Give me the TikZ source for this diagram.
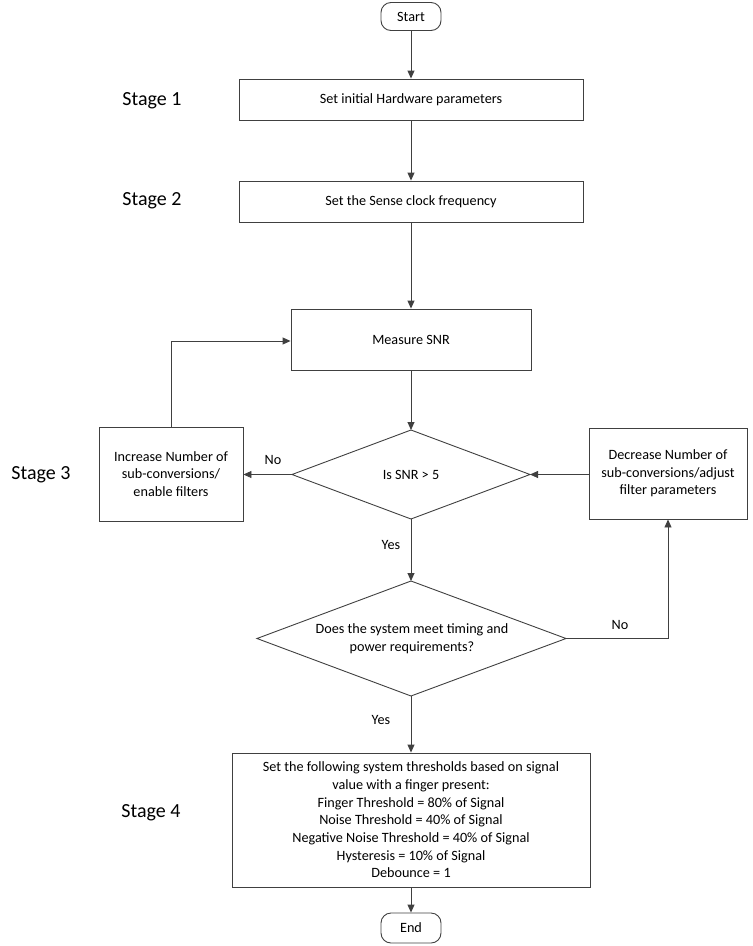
\documentclass[tikz,border=0pt]{standalone}
\usepackage{fontspec}
\setmainfont{Carlito}
\usetikzlibrary{shapes.geometric,arrows.meta}
\definecolor{ln}{HTML}{404040}
\tikzset{
  every node/.style={font=\fontsize{14.2}{17.7}\selectfont, text=black},
  proc/.style={draw=ln, line width=0.9pt, rectangle, align=center, inner sep=0pt},
  term/.style={draw=ln, line width=0.9pt, rectangle, rounded corners=10pt, minimum width=60pt, minimum height=28pt, inner sep=0pt},
  stagelbl/.style={font=\fontsize{20}{24}\selectfont},
  lbl/.style={font=\fontsize{14.2}{17.7}\selectfont},
  conn/.style={draw=ln, line width=0.9pt, -{Triangle[length=8pt,width=7pt]}}
}
\begin{document}
\begin{tikzpicture}[x=1pt,y=-1pt]
\useasboundingbox (0,0) rectangle (753,946);
\node[term] (start) at (411,16.5) {Start};
\node[proc, minimum width=344pt, minimum height=41pt] (b1) at (411,99.5) {Set initial Hardware parameters};
\node[proc, minimum width=344pt, minimum height=41pt] (b2) at (411,201.5) {Set the Sense clock frequency};
\node[proc, minimum width=240pt, minimum height=61pt] (snr) at (411,339.5) {Measure SNR};
\path[draw=ln, line width=0.9pt] (292,474.5) coordinate (d1w) -- (411,430) coordinate (d1n) -- (530,474.5) coordinate (d1e) -- (411,519) coordinate (d1s) -- cycle;
\node at (411,474.5) (d1t) {Is SNR > 5};
\node[proc, minimum width=144pt, minimum height=94pt] (inc) at (171,474) {Increase Number of\\sub-conversions/\\enable filters};
\node[proc, minimum width=158pt, minimum height=91pt] (dcr) at (668,473.5) {Decrease Number of\\sub-conversions/adjust\\filter parameters};
\path[draw=ln, line width=0.9pt] (257,638.5) coordinate (d2w) -- (411,581) coordinate (d2n) -- (566,638.5) coordinate (d2e) -- (411,696) coordinate (d2s) -- cycle;
\node[align=center] (d2t) at (412,638.5) {Does the system meet timing and\\power requirements?};
\node[proc, minimum width=358pt, minimum height=134pt] (b4) at (411,820) {Set the following system thresholds based on signal\\value with a finger present:\\Finger Threshold = 80\% of Signal\\Noise Threshold = 40\% of Signal\\Negative Noise Threshold = 40\% of Signal\\Hysteresis = 10\% of Signal\\Debounce = 1};
\node[term, minimum height=30pt] (end) at (411,928) {End};
\node[stagelbl] (s1) at (152,101) {Stage 1};
\node[stagelbl] (s2) at (152,201) {Stage 2};
\node[stagelbl] (s3) at (41,475) {Stage 3};
\node[stagelbl] (s4) at (151,813) {Stage 4};
\draw[conn] (start) -- (b1);
\draw[conn] (b1) -- (b2);
\draw[conn] (b2) -- (snr);
\draw[conn] (snr) -- (d1n);
\draw[conn] (d1w) -- (inc.east |- d1w);
\node[lbl] (no1) at (273,460) {No};
\draw[conn] (inc.north) |- (snr.west |- 0,341);
\draw[conn] (dcr.west |- d1e) -- (d1e);
\draw[conn] (d1s) -- (d2n);
\node[lbl] (yes1) at (391,545) {Yes};
\draw[conn] (d2e) -| (dcr.south);
\node[lbl] (no2) at (620,625) {No};
\draw[conn] (d2s) -- (b4.north -| d2s);
\node[lbl] (yes2) at (381,720) {Yes};
\draw[conn] (b4) -- (end);
\end{tikzpicture}
\end{document}
